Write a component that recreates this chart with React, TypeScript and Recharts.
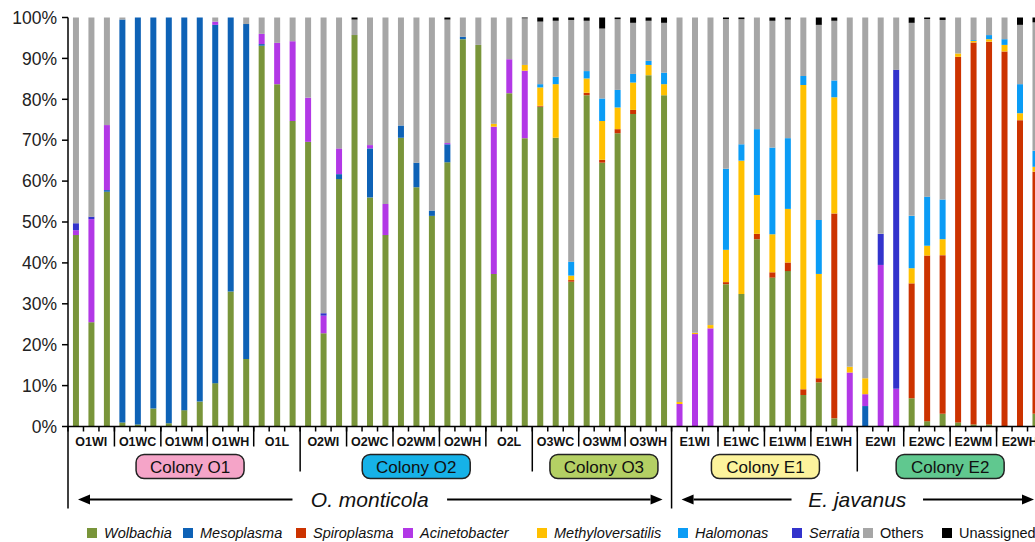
import { Bar, BarChart, Legend, XAxis, YAxis } from 'recharts'

const FONT = '"Liberation Sans", Arial, sans-serif'

// sample groups, three replicates each
const groups = [
  'O1WI', 'O1WC', 'O1WM', 'O1WH', 'O1L',
  'O2WI', 'O2WC', 'O2WM', 'O2WH', 'O2L',
  'O3WC', 'O3WM', 'O3WH',
  'E1WI', 'E1WC', 'E1WM', 'E1WH',
  'E2WI', 'E2WC', 'E2WM', 'E2WH',
]
const replicates = ['1', '2', '3']
const samples = groups.flatMap((g) => replicates.map((r) => `${g}-${r}`))

// colonies / species as ranges of group indices (inclusive)
const colonies = [
  { label: 'Colony O1', from: 0, to: 4 },
  { label: 'Colony O2', from: 5, to: 9 },
  { label: 'Colony O3', from: 10, to: 12 },
  { label: 'Colony E1', from: 13, to: 16 },
  { label: 'Colony E2', from: 17, to: 20 },
]
const species = [
  { label: 'O. monticola', from: 0, to: 12 },
  { label: 'E. javanus', from: 13, to: 20 },
]

// relative abundance (%), one value per sample
const wolbachia = [
  46.8, 25.5, 57.4, 1.0, 0.5, 4.4, 0.8, 4.0, 6.1, 10.6, 33.0, 16.5, 93.1, 83.7, 74.7,
  69.6, 22.8, 60.5, 95.7, 56.0, 46.8, 70.6, 58.5, 51.5, 64.6, 94.7, 93.3, 37.3, 81.5, 70.5,
  78.2, 70.6, 35.4, 81.0, 64.5, 71.7, 76.4, 85.9, 81.0,
  0, 0, 0, 34.8, 32.4, 45.8, 36.4, 38.0, 7.7, 10.8, 2.0, 0,
  0, 0, 0, 6.9, 1.3, 3.1, 1.0, 0.5, 0.5, 0, 0, 3.1,
]
const mesoplasma = [
  0, 0, 0.4, 98.5, 99.5, 95.6, 99.2, 96.0, 93.9, 87.6, 67.0, 81.9, 0.4, 0, 0,
  0, 0, 1.2, 0, 12.0, 0, 3.0, 6.0, 1.3, 4.4, 0.6, 0, 0, 0, 0,
  0, 0, 0, 0, 0, 0, 0, 0, 0,
  0, 0, 0, 0, 0, 0, 0, 0, 0, 0, 0, 0,
  5.0, 0, 0, 0, 0, 0, 0, 0, 0, 0, 0, 0,
]
const spiroplasma = [
  0, 0, 0, 0, 0, 0, 0, 0, 0, 0, 0, 0, 0, 0, 0,
  0, 0, 0, 0, 0, 0, 0, 0, 0, 0, 0, 0, 0, 0, 0,
  0.2, 0, 0.4, 0.6, 0.7, 1.0, 1.0, 0, 0,
  0, 0, 0, 0.5, 0, 1.3, 1.3, 2.1, 1.4, 1.0, 50.1, 0,
  0, 0, 0, 28.1, 40.5, 38.8, 89.4, 93.4, 93.6, 91.7, 74.9, 59.2,
]
const acinetobacter = [
  1.2, 25.2, 15.9, 0, 0, 0, 0, 0, 0, 0.8, 0, 0, 2.5, 10.1, 19.5,
  10.8, 4.3, 6.3, 0, 0.8, 7.6, 0, 0, 0, 0.3, 0, 0, 36.0, 8.3, 16.5,
  0, 0, 0, 0, 0, 0, 0, 0, 0,
  5.5, 22.6, 24.0, 0, 0, 0, 0, 0, 0, 0, 0, 13.2,
  2.9, 39.5, 9.2, 0, 0, 0, 0, 0, 0, 0, 0, 0,
]
const methyloversatilis = [
  0, 0, 0, 0, 0, 0, 0, 0, 0, 0, 0, 0, 0, 0, 0,
  0, 0, 0, 0, 0, 0, 0, 0, 0, 0, 0, 0, 0.7, 0, 1.4,
  4.5, 13.1, 1.1, 3.5, 9.5, 5.3, 6.7, 2.5, 2.7,
  0.5, 0.3, 0.8, 7.9, 32.6, 9.5, 9.3, 13.1, 74.4, 25.5, 28.4, 1.4,
  3.9, 0, 0, 3.7, 2.4, 3.9, 0.8, 0.4, 0.6, 1.6, 1.7, 1.2,
]
const halomonas = [
  0, 0, 0, 0, 0, 0, 0, 0, 0, 0, 0, 0, 0, 0, 0,
  0, 0, 0, 0, 0, 0, 0, 0, 0, 0, 0, 0, 0, 0, 0,
  0.8, 1.8, 3.4, 1.8, 5.5, 4.3, 2.1, 1.0, 2.8,
  0, 0, 0, 19.8, 4.0, 16.1, 21.2, 17.3, 2.2, 13.2, 4.1, 0,
  0, 0, 0, 12.8, 12.0, 9.7, 0, 0.2, 1.0, 1.4, 7.1, 3.9,
]
const serratia = [
  1.7, 0.6, 0, 0, 0, 0, 0, 0, 0, 0, 0, 0, 0, 0, 0,
  0, 0.6, 0, 0, 0, 0, 0, 0, 0, 0, 0, 0, 0, 0, 0,
  0, 0, 0, 0, 0, 0, 0, 0, 0,
  0, 0, 0, 0, 0, 0, 0, 0, 0, 0, 0, 0,
  0, 7.6, 78.0, 0, 0, 0, 0, 0, 0, 0, 0, 0,
]
const others = [
  50.3, 48.7, 26.3, 0.5, 0, 0, 0, 0, 0, 1.0, 0, 1.6, 4.0, 6.2, 5.8,
  19.6, 72.3, 32.0, 3.8, 31.2, 45.6, 26.4, 35.5, 47.2, 30.2, 4.7, 6.7, 26.0, 10.2, 11.4,
  15.3, 13.7, 59.1, 12.3, 17.1, 17.3, 12.5, 9.8, 12.2,
  94.0, 77.1, 75.2, 36.6, 30.6, 27.3, 31.0, 29.0, 14.3, 47.7, 14.6, 85.4,
  88.2, 52.9, 12.8, 47.2, 43.4, 43.9, 8.8, 5.5, 4.3, 5.3, 14.5, 31.4,
]
const unassigned = [
  0, 0, 0, 0, 0, 0, 0, 0, 0, 0, 0, 0, 0, 0, 0,
  0, 0, 0, 0.5, 0, 0, 0, 0, 0, 0.5, 0, 0, 0, 0, 0.2,
  1.0, 0.8, 0.6, 0.8, 2.7, 0.4, 1.3, 0.8, 1.3,
  0, 0, 0, 0.4, 0.4, 0, 0.8, 0.5, 0, 1.8, 0.8, 0,
  0, 0, 0, 1.3, 0.4, 0.6, 0, 0, 0, 0, 1.8, 1.2,
]

const yTicks = [0, 0.1, 0.2, 0.3, 0.4, 0.5, 0.6, 0.7, 0.8, 0.9, 1]

const series = [
  { key: 'wolbachia', name: 'Wolbachia', values: wolbachia, color: '#79953a', italic: true },
  { key: 'mesoplasma', name: 'Mesoplasma', values: mesoplasma, color: '#0e62b6', italic: true },
  { key: 'spiroplasma', name: 'Spiroplasma', values: spiroplasma, color: '#cc3300', italic: true },
  { key: 'acinetobacter', name: 'Acinetobacter', values: acinetobacter, color: '#b238e6', italic: true },
  { key: 'methyloversatilis', name: 'Methyloversatilis', values: methyloversatilis, color: '#ffc000', italic: true },
  { key: 'halomonas', name: 'Halomonas', values: halomonas, color: '#0b9cf5', italic: true },
  { key: 'serratia', name: 'Serratia', values: serratia, color: '#3333cc', italic: true },
  { key: 'others', name: 'Others', values: others, color: '#a6a6a6', italic: false },
  { key: 'unassigned', name: 'Unassigned', values: unassigned, color: '#000000', italic: false },
]

const data = samples.map((sample, i) => {
  const row: Record<string, string | number> = { sample }
  series.forEach((s) => (row[s.key] = s.values[i]))
  return row
})

// layout
const CHART_W = 1060
const CHART_H = 542
const MARGIN = { top: 17.5, right: 17, bottom: 0, left: 8 }
const Y_W = 60
const LEGEND_H = 18
const X_H = CHART_H - MARGIN.top - 409 - LEGEND_H
const BAND = (CHART_W - MARGIN.left - MARGIN.right - Y_W) / samples.length
const COLONY_FILL = ['#f5a4c8', '#16b2e8', '#b4d064', '#fcf39c', '#60c88f']
const COLONY_NUDGE = [6, 0, 2, 1, 0]
const LEGEND_X = [87, 183, 296, 403, 537, 678, 792, 863, 942]

function Arrow({ from, to, y }: { from: number; to: number; y: number }) {
  const dir = to > from ? 1 : -1
  const base = to - dir * 12
  return (
    <g>
      <line x1={from} x2={base} y1={y} y2={y} stroke="#000" strokeWidth={2} />
      <polygon points={`${to},${y} ${base},${y - 5} ${base},${y + 5}`} fill="#000" />
    </g>
  )
}

function SampleTick(props: any) {
  const { x, y, payload } = props
  const i: number = payload.index
  const left = x - BAND / 2
  const els: any[] = []

  els.push(<line key="t" x1={left} x2={left} y1={y} y2={y + 5} stroke="#000" strokeWidth={1.5} />)

  if (i % replicates.length === 0) {
    const g = i / replicates.length
    let depth = 20
    if (colonies.some((c) => c.from === g)) depth = 45
    if (species.some((s) => s.from === g)) depth = 82
    els.push(<line key="s" x1={left} x2={left} y1={y} y2={y + depth} stroke="#000" strokeWidth={1.5} />)
  }
  if (i % replicates.length === 1) {
    els.push(
      <text key="g" x={x} y={y + 19} textAnchor="middle" fontSize={12.5} fontWeight="bold" fill="#111" fontFamily={FONT}>
        {groups[(i - 1) / replicates.length]}
      </text>,
    )
  }

  if (i === 0) {
    const n = replicates.length
    colonies.forEach((c, k) => {
      const cx = left + ((c.from * n + (c.to + 1) * n) / 2) * BAND + COLONY_NUDGE[k]
      els.push(
        <g key={c.label}>
          <rect x={cx - 54} y={y + 28} width={108} height={24} rx={8} fill={COLONY_FILL[k]} stroke="#222" strokeWidth={1.5} />
          <text x={cx} y={y + 46} textAnchor="middle" fontSize={17} fill="#111" fontFamily={FONT}>
            {c.label}
          </text>
        </g>,
      )
    })
    species.forEach((s) => {
      const x1 = left + s.from * n * BAND
      const x2 = left + (s.to + 1) * n * BAND
      const cx = (x1 + x2) / 2
      const half = (s.label.length * 0.55 * 21) / 2 + 8
      const ay = y + 73
      els.push(
        <g key={s.label}>
          <Arrow from={cx - half} to={x1 + 10} y={ay} />
          <text x={cx} y={y + 80} textAnchor="middle" fontSize={21} fontStyle="italic" fill="#111" fontFamily={FONT}>
            {s.label}
          </text>
          <Arrow from={cx + half} to={x2 - 9} y={ay} />
        </g>,
      )
    })
  }
  return <g>{els}</g>
}

function LegendRow() {
  return (
    <div style={{ position: 'relative', height: LEGEND_H, width: CHART_W, fontFamily: FONT, fontSize: 14.5, color: '#111' }}>
      {series.map((s, k) => (
        <div
          key={s.key}
          style={{ position: 'absolute', left: LEGEND_X[k], top: 0, height: LEGEND_H, display: 'flex', alignItems: 'center', whiteSpace: 'nowrap' }}
        >
          <span style={{ width: 10, height: 10, background: s.color, marginRight: 7, display: 'inline-block' }} />
          <span style={{ fontStyle: s.italic ? 'italic' : 'normal' }}>{s.name}</span>
        </div>
      ))}
    </div>
  )
}

export default function App() {
  return (
    <div style={{ position: 'fixed', top: 0, left: 0, width: 1035, height: 542, overflow: 'hidden', background: '#fff' }}>
      <BarChart
        width={CHART_W}
        height={CHART_H}
        data={data}
        margin={MARGIN}
        stackOffset="expand"
        barCategoryGap="32%"
      >
        <XAxis
          dataKey="sample"
          interval={0}
          height={X_H}
          tickSize={0}
          tickMargin={0}
          tickLine={false}
          axisLine={{ stroke: '#000', strokeWidth: 1.5 }}
          tick={<SampleTick />}
        />
        <YAxis
          width={Y_W}
          domain={[0, 1]}
          ticks={yTicks}
          interval={0}
          tickFormatter={(v: number) => `${Math.round(v * 100)}%`}
          tick={{ fontSize: 17.5, fill: '#222', fontFamily: FONT }}
          axisLine={{ stroke: '#000', strokeWidth: 1.5 }}
          tickLine={{ stroke: '#000', strokeWidth: 1.5 }}
          tickSize={6}
          tickMargin={5}
        />
        <Legend
          verticalAlign="bottom"
          content={() => <LegendRow />}
          wrapperStyle={{ left: 0, width: CHART_W, height: LEGEND_H }}
        />
        {series.map((s) => (
          <Bar key={s.key} dataKey={s.key} name={s.name} stackId="a" fill={s.color} isAnimationActive={false} />
        ))}
      </BarChart>
    </div>
  )
}
